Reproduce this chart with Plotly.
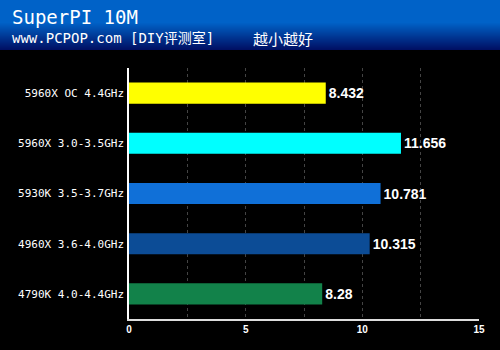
import plotly.graph_objects as go

categories = ["5960X OC 4.4GHz", "5960X 3.0-3.5GHz", "5930K 3.5-3.7GHz",
              "4960X 3.6-4.0GHz", "4790K 4.0-4.4GHz"]
values = [8.432, 11.656, 10.781, 10.315, 8.28]
value_labels = ["8.432", "11.656", "10.781", "10.315", "8.28"]
bar_colors = ["#FFFF00", "#00FFFF", "#1070D8", "#0C4C96", "#12824A"]
tick_vals = [0, 2.5, 5, 7.5, 10, 12.5, 15]
tick_text = ["0", "", "5", "", "10", "", "15"]

W, H = 500, 350
ML, MR, MT, MB = 129, 21, 68, 31
PW, PH = W - ML - MR, H - MT - MB

def px_x(px):
    return (px - ML) / PW

def px_y(py):
    return (H - MB - py) / PH

fig = go.Figure(go.Bar(
    x=values, y=categories, orientation="h",
    marker=dict(color=bar_colors, line=dict(width=0)),
    text=value_labels, textposition="outside",
    textfont=dict(family="Liberation Sans, Arial", size=14, color="white", weight="bold"),
    cliponaxis=False, width=0.42,
))

# header gradient
shapes = []
top_col = (0, 98, 200)
bot_col = (0, 16, 100)
shapes.append(dict(type="rect", xref="paper", yref="paper",
                   x0=px_x(0), x1=px_x(W), y0=px_y(22), y1=px_y(0),
                   fillcolor="rgb(%d,%d,%d)" % top_col, line=dict(width=0), layer="below"))
for py in range(22, 50):
    t = (py - 22) / 27.0
    c = tuple(int(round(top_col[i] + (bot_col[i] - top_col[i]) * t)) for i in range(3))
    shapes.append(dict(type="rect", xref="paper", yref="paper",
                       x0=px_x(0), x1=px_x(W), y0=px_y(py + 1), y1=px_y(py),
                       fillcolor="rgb(%d,%d,%d)" % c, line=dict(width=0), layer="below"))

annotations = [
    dict(text="SuperPI 10M", xref="paper", yref="paper", x=px_x(10), y=px_y(17),
         xanchor="left", yanchor="middle", showarrow=False,
         font=dict(family="DejaVu Sans Mono", size=19, color="white")),
    dict(text="www.PCPOP.com [DIY评测室]", xref="paper", yref="paper", x=px_x(10), y=px_y(38),
         xanchor="left", yanchor="middle", showarrow=False,
         font=dict(family="DejaVu Sans Mono, Noto Sans CJK SC", size=14, color="white")),
    dict(text="越小越好", xref="paper", yref="paper", x=px_x(251), y=px_y(38),
         xanchor="left", yanchor="middle", showarrow=False,
         font=dict(family="Noto Sans CJK SC", size=15, color="white")),
]

fig.update_layout(
    width=W, height=H,
    margin=dict(l=ML, r=MR, t=MT, b=MB),
    paper_bgcolor="black", plot_bgcolor="black",
    showlegend=False, shapes=shapes, annotations=annotations,
    xaxis=dict(range=[0, 15], tickvals=tick_vals, ticktext=tick_text,
               showgrid=True, gridcolor="#444444", griddash="dot", gridwidth=1,
               showline=True, linecolor="#DDDDDD", linewidth=1.5,
               zeroline=False, ticks="", fixedrange=True,
               tickfont=dict(family="Liberation Sans, Arial", size=10, color="white", weight="bold")),
    yaxis=dict(autorange="reversed", showgrid=False, zeroline=False,
               showline=True, linecolor="white", linewidth=1.5, ticks="",
               ticklabelstandoff=1,
               tickfont=dict(family="DejaVu Sans Mono", size=11, color="white")),
)

fig.write_html("out.html")
